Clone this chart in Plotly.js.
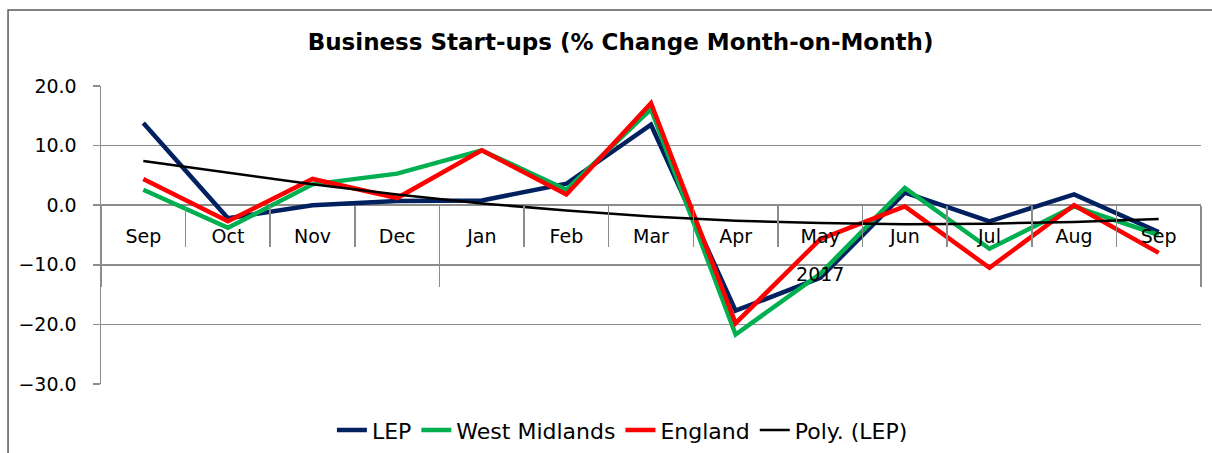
<!DOCTYPE html>
<html>
<head>
<meta charset="utf-8">
<script src="https://cdn.plot.ly/plotly-3.0.1.min.js"></script>
<style>
  html, body { margin: 0; padding: 0; background: #fff; }
  #chart { width: 1212px; height: 453px; }
</style>
</head>
<body>
<div id="chart"></div>
<script>
// ---- data ----
const months = ["Sep","Oct","Nov","Dec","Jan","Feb","Mar","Apr","May","Jun","Jul","Aug","Sep"];
const years  = ["","","","","2017","2017","2017","2017","2017","2017","2017","2017","2017"];
const lep         = [13.8, -2.2, 0.0, 0.7, 0.8, 3.6, 13.5, -17.7, -12.2, 2.1, -2.7, 1.8, -4.5];
const westMids    = [2.6, -3.8, 3.5, 5.3, 9.2, 2.6, 16.1, -21.7, -11.5, 2.9, -7.3, -0.2, -5.0];
const england     = [4.4, -2.7, 4.4, 1.2, 9.2, 1.8, 17.1, -19.8, -5.7, -0.2, -10.5, 0.0, -8.0];
const polyLep     = [7.4, 5.4, 3.5, 1.8, 0.3, -0.9, -1.9, -2.6, -3.0, -3.2, -3.1, -2.8, -2.3];
const yTicks = [-30, -20, -10, 0, 10, 20];

// unique category keys (month + position) so the two "Sep" stay apart
const cats = months.map((m, i) => m + "|" + i);

// year groups -> boundaries and label positions (in category index units)
const groupBounds = [-0.5];
const groupMids = [], groupLabels = [];
let start = 0;
for (let i = 1; i <= years.length; i++) {
  if (i === years.length || years[i] !== years[start]) {
    groupBounds.push(i - 0.5);
    if (years[start] !== "") { groupMids.push((start + i - 1) / 2); groupLabels.push(years[start]); }
    start = i;
  }
}

function line(name, y, color, width) {
  return { type: "scatter", mode: "lines", name: name, x: cats, y: y,
           line: { color: color, width: width }, hoverinfo: "skip" };
}
const traces = [
  line("LEP", lep, "#002060", 4.5),
  line("West Midlands", westMids, "#00B050", 4.5),
  line("England", england, "#FF0000", 4.5),
  line("Poly. (LEP)", polyLep, "#000000", 2.5)
];

const grid = "#8c8c8c";
const xr = [-0.5, months.length - 0.5];
const layout = {
  width: 1212, height: 453,
  margin: { l: 101, r: 11, t: 86, b: 69, autoexpand: false },
  paper_bgcolor: "#fff", plot_bgcolor: "#fff",
  title: { text: "<b>Business Start-ups (% Change Month-on-Month)</b>",
           font: { family: "DejaVu Sans", size: 23, color: "#000" },
           x: 0.512, xanchor: "center", y: 0.907, yanchor: "middle" },
  xaxis: {
    type: "category", range: xr, anchor: "free", position: 0.6,
    tickvals: cats, ticktext: months, tickson: "boundaries",
    showline: false, showgrid: false, zeroline: false,
    ticks: "outside", ticklen: 41, tickwidth: 1.5, tickcolor: grid,
    tickfont: { family: "DejaVu Sans", size: 19, color: "#000" },
    ticklabelstandoff: 18
  },
  xaxis2: {
    type: "linear", range: xr, overlaying: "x", anchor: "free", position: 0.6,
    tickvals: groupBounds, showticklabels: false,
    showline: false, showgrid: false, zeroline: false,
    ticks: "outside", ticklen: 81, tickwidth: 1.5, tickcolor: grid
  },
  xaxis3: {
    type: "linear", range: xr, overlaying: "x", anchor: "free", position: 0.6,
    tickvals: groupMids, ticktext: groupLabels, ticks: "",
    showline: false, showgrid: false, zeroline: false,
    tickfont: { family: "DejaVu Sans", size: 19, color: "#000" },
    ticklabelstandoff: 56
  },
  yaxis: {
    range: [-30, 20], tickvals: yTicks, tickformat: ".1f",
    showgrid: true, gridcolor: grid, gridwidth: 1.5,
    zeroline: false, showline: true, linecolor: grid, linewidth: 1.5,
    ticks: "outside", ticklen: 7, tickwidth: 1.5, tickcolor: grid,
    tickfont: { family: "DejaVu Sans", size: 19, color: "#000" },
    ticklabelstandoff: 12
  },
  showlegend: true,
  legend: { orientation: "h", x: 0.474, xanchor: "center", y: -0.155, yanchor: "middle",
            font: { family: "DejaVu Sans", size: 22, color: "#000" },
            itemwidth: 30, tracegroupgap: 0, bgcolor: "rgba(0,0,0,0)" },
  shapes: [
    { type: "rect", xref: "paper", yref: "paper", x0: -0.0845, x1: 1.03, y0: -0.35, y1: 1.255,
      line: { color: "#595959", width: 1.5 }, fillcolor: "rgba(0,0,0,0)", layer: "below" }
  ]
};
// empty traces that only switch on the overlay axes (no visible marks)
traces.push({ type: "scatter", x: [], y: [], xaxis: "x2", showlegend: false, hoverinfo: "skip" });
traces.push({ type: "scatter", x: [], y: [], xaxis: "x3", showlegend: false, hoverinfo: "skip" });
Plotly.newPlot("chart", traces, layout, { displayModeBar: false, staticPlot: true });
</script>
</body>
</html>
